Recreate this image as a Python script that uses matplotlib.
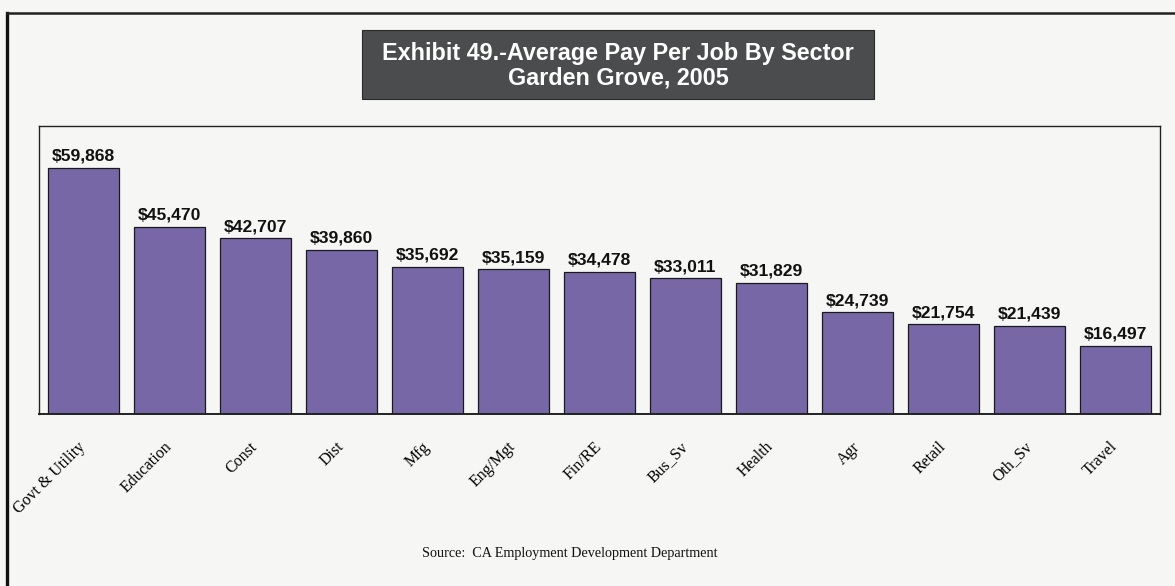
import matplotlib
matplotlib.use("Agg")
import matplotlib.pyplot as plt
from matplotlib.patches import Rectangle
from matplotlib.lines import Line2D

sectors = ["Govt & Utility", "Education", "Const", "Dist", "Mfg", "Eng/Mgt",
           "Fin/RE", "Bus_Sv", "Health", "Agr", "Retail", "Oth_Sv", "Travel"]
avg_pay = [59868, 45470, 42707, 39860, 35692, 35159, 34478, 33011, 31829,
           24739, 21754, 21439, 16497]

title_lines = ["Exhibit 49.-Average Pay Per Job By Sector", "Garden Grove, 2005"]
source_text = "Source:  CA Employment Development Department"

bg = "#f6f6f4"
bar_color = "#7767a7"

fig = plt.figure(figsize=(11.75, 5.86), dpi=100, facecolor=bg)

# page border (left and top edges)
fig.add_artist(Line2D([7 / 1175, 7 / 1175], [1 - 13 / 586, 0], transform=fig.transFigure,
                      color="#111111", lw=2.4))
fig.add_artist(Line2D([7 / 1175, 1], [1 - 13 / 586, 1 - 13 / 586], transform=fig.transFigure,
                      color="#222222", lw=1.8))

# title box
bx0, bx1, by0, by1 = 362 / 1175, 874 / 1175, 1 - 99 / 586, 1 - 30 / 586
fig.add_artist(Rectangle((bx0, by0), bx1 - bx0, by1 - by0, transform=fig.transFigure,
                         facecolor="#4a4c4e", edgecolor="#2a2a2a", lw=0.8))
fig.text((bx0 + bx1) / 2, (by0 + by1) / 2 - 0.002, "\n".join(title_lines), ha="center",
         va="center", color="white", fontsize=16.8, fontweight="bold",
         family="Liberation Sans", linespacing=1.12)

ax = fig.add_axes([39 / 1175, 1 - 414 / 586, (1160 - 39) / 1175, (414 - 126) / 586])
ax.set_facecolor(bg)
x = list(range(len(sectors)))
bars = ax.bar(x, avg_pay, width=0.82, color=bar_color, edgecolor="#1a1a1a", linewidth=0.9)
for xi, v in zip(x, avg_pay):
    ax.annotate(f"${v:,}", (xi, v), xytext=(0, 3), textcoords="offset points",
                ha="center", va="bottom", fontsize=12.6, fontweight="bold",
                family="Liberation Sans", color="#111111")

ax.set_xlim(-0.515, len(sectors) - 0.48)
ax.set_ylim(0, 70000)
ax.set_yticks([])
ax.set_xticks(x)
ax.set_xticklabels(sectors, rotation=45, ha="right", va="center", rotation_mode="anchor",
                   family="Liberation Serif", fontsize=11.5)
ax.tick_params(axis="x", length=0, pad=22)
for s in ax.spines.values():
    s.set_color("#222222")
    s.set_linewidth(1.0)
ax.spines["bottom"].set_linewidth(1.4)

fig.text(570 / 1175, 1 - 554 / 586, source_text, ha="center", va="center",
         family="Liberation Serif", fontsize=10.2, color="#111111")

fig.savefig("out.png", dpi=100, facecolor=bg)
